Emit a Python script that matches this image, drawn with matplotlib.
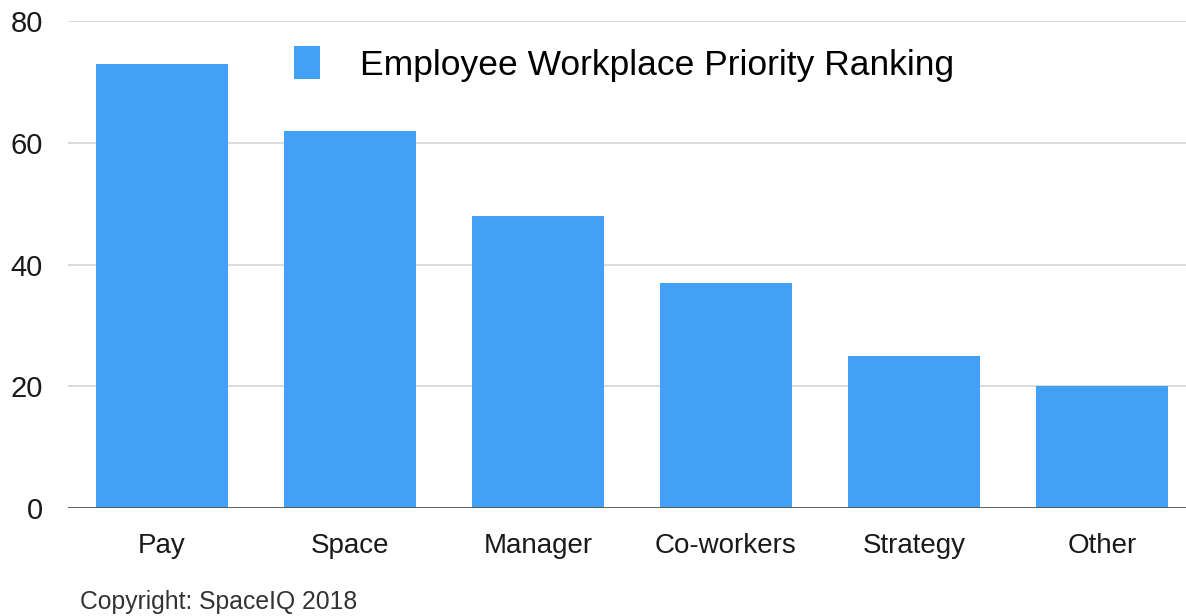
import matplotlib.pyplot as plt

plt.rcParams['font.family'] = ['Liberation Sans', 'DejaVu Sans']

categories = ['Pay', 'Space', 'Manager', 'Co-workers', 'Strategy', 'Other']
scores = [73, 62, 48, 37, 25, 20]
y_ticks = [0, 20, 40, 60, 80]
series_name = 'Employee Workplace Priority Ranking'

W, H = 1186, 616
fig = plt.figure(figsize=(W / 100, H / 100), dpi=100)
# the plot area runs a little past the right edge, so the last slot is cut off
ax = fig.add_axes([68 / W, 108 / H, 1128 / W, 487 / H])

x = range(len(categories))
ax.bar(x, scores, width=0.70, color='#42a0f5', label=series_name, zorder=3)

ax.set_xlim(-0.5, len(categories) - 0.5)
ax.set_ylim(0, 80)
ax.set_yticks(y_ticks)
ax.set_xticks(list(x))
ax.set_xticklabels(categories)

ax.grid(axis='y', color='#d4d4d4', linewidth=1.2, zorder=0)
ax.axhline(0, color='#555555', linewidth=1.3, zorder=4)
for s in ax.spines.values():
    s.set_visible(False)
ax.tick_params(axis='both', length=0, colors='#1a1a1a')
ax.tick_params(axis='y', pad=18, labelsize=21)
ax.tick_params(axis='x', pad=18, labelsize=20)

ax.legend(loc='upper left', bbox_to_anchor=(294 / W, 1 - 46 / H),
          bbox_transform=fig.transFigure, frameon=False, fontsize=25.5,
          handlelength=0.72, handleheight=1.05, handletextpad=1.15,
          borderpad=0, borderaxespad=0)

fig.text(80 / W, 1 - 602 / H, 'Copyright: SpaceIQ 2018', fontsize=17.8,
         color='#333333', va='center', ha='left')

fig.savefig('out.png', dpi=100)
